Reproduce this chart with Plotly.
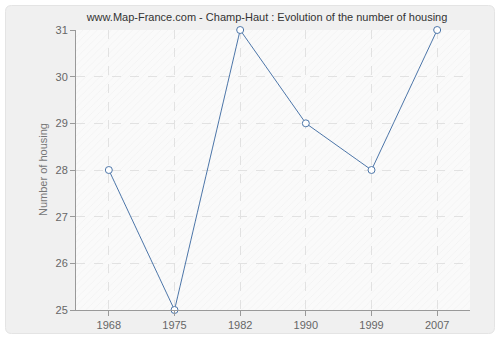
import plotly.graph_objects as go

years = ["1968", "1975", "1982", "1990", "1999", "2007"]
housing = [28, 25, 31, 29, 28, 31]
y_ticks = [25, 26, 27, 28, 29, 30, 31]

title_text = "www.Map-France.com - Champ-Haut : Evolution of the number of housing"
y_title = "Number of housing"

L, R, T, B = 76, 30, 30, 30
W, H = 500, 340
pw, ph = W - L - R, H - T - B


def px(xp):
    return (xp - L) / pw


def py(yp):
    return (H - B - yp) / ph


fig = go.Figure()
# faint hatch over plot area (on hidden overlay axes)
fig.add_trace(go.Bar(
    x=[0.5], y=[1], width=[1], xaxis="x2", yaxis="y2",
    marker=dict(color="rgba(0,0,0,0)", line=dict(width=0),
                pattern=dict(shape="/", size=5, solidity=0.15,
                             fgcolor="rgba(215,215,215,0.45)", bgcolor="rgba(0,0,0,0)",
                             fillmode="overlay")),
    showlegend=False, hoverinfo="skip",
))
fig.add_trace(go.Scatter(
    x=years, y=housing, mode="lines+markers",
    line=dict(color="#4a74a8", width=1),
    marker=dict(symbol="circle", size=7, color="white",
                line=dict(color="#4a74a8", width=1)),
    showlegend=False, cliponaxis=False,
))

# outer rounded frame
x0, x1, y0, y1, r = 5.5, 494.5, 5.5, 333.5, 6
path = (f"M {px(x0 + r)},{py(y0)} L {px(x1 - r)},{py(y0)} "
        f"Q {px(x1)},{py(y0)} {px(x1)},{py(y0 + r)} "
        f"L {px(x1)},{py(y1 - r)} Q {px(x1)},{py(y1)} {px(x1 - r)},{py(y1)} "
        f"L {px(x0 + r)},{py(y1)} Q {px(x0)},{py(y1)} {px(x0)},{py(y1 - r)} "
        f"L {px(x0)},{py(y0 + r)} Q {px(x0)},{py(y0)} {px(x0 + r)},{py(y0)} Z")
fig.add_shape(type="path", xref="paper", yref="paper", path=path,
              fillcolor="#f0f0f0", line=dict(color="#e4e4e4", width=1),
              layer="below")
# plot area
fig.add_shape(type="rect", xref="paper", yref="paper",
              x0=0, x1=1, y0=0, y1=1,
              fillcolor="#fafafa", line=dict(width=0), layer="below")

fig.add_annotation(text=y_title, xref="paper", yref="paper",
                   x=px(43), y=0.5, xanchor="center", yanchor="middle",
                   textangle=-90, showarrow=False,
                   font=dict(family="Liberation Sans", size=11, color="#777777"))

fig.update_layout(
    width=W, height=H, autosize=False,
    margin=dict(l=L, r=R, t=T, b=B, pad=0, autoexpand=False),
    paper_bgcolor="white", plot_bgcolor="rgba(0,0,0,0)",
    title=dict(text=title_text, xref="paper", x=px(267), xanchor="center",
               y=1 - 17 / H, yanchor="middle",
               font=dict(family="Liberation Sans", size=11, color="#333333")),
    font=dict(family="Liberation Sans", size=11, color="#666666"),
    xaxis2=dict(overlaying="x", range=[0, 1], visible=False, fixedrange=True),
    yaxis2=dict(overlaying="y", range=[0, 1], visible=False, fixedrange=True),
    bargap=0,
)
fig.update_layout(xaxis=dict(
    type="category", range=[-0.5, 5.5], automargin=False,
    showline=True, linecolor="#999999", linewidth=1,
    ticks="outside", ticklen=5, tickcolor="#999999",
    showgrid=True, gridcolor="#e2e2e2", griddash="dash", gridwidth=1,
    tickfont=dict(size=11, color="#666666"), zeroline=False,
), yaxis=dict(
    range=[25, 31], tickvals=y_ticks, automargin=False,
    showline=True, linecolor="#999999", linewidth=1,
    ticks="outside", ticklen=5, tickcolor="#999999",
    showgrid=True, gridcolor="#e2e2e2", griddash="dash", gridwidth=1,
    tickfont=dict(size=11, color="#666666"), zeroline=False,
))

fig.write_html("out.html")
